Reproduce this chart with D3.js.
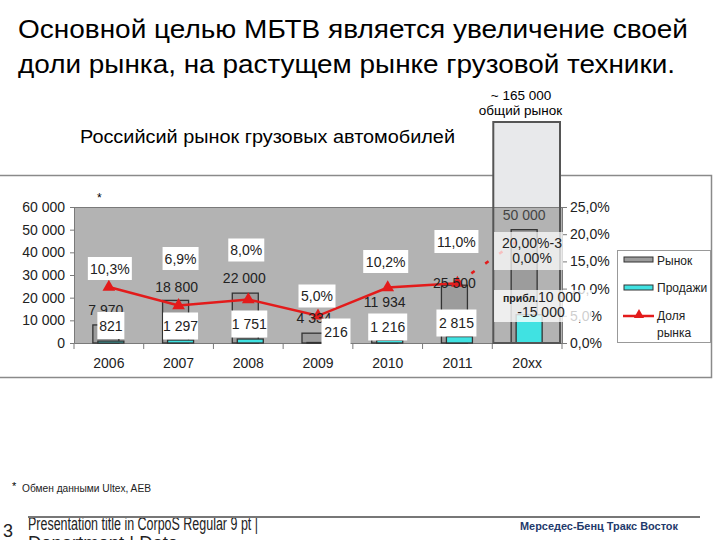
<!DOCTYPE html>
<html><head><meta charset="utf-8">
<script src="https://cdn.jsdelivr.net/npm/d3@7/dist/d3.min.js"></script>
<style>body{margin:0;background:#fff}svg{display:block;font-family:"Liberation Sans",Arial,sans-serif}</style>
</head><body>
<svg id="c" width="720" height="540"></svg>
<script>
const categories = ["2006","2007","2008","2009","2010","2011","20xx"];
const market = [7970, 18800, 22000, 4334, 11934, 25500, 50000];
const sales = [821, 1297, 1751, 216, 1216, 2815, 12500];
const share = [10.3, 6.9, 8.0, 5.0, 10.2, 11.0, 20.0];
const marketLabels = ["7 970","18 800","22 000","4 334","11 934","25 500","50 000"];
const salesLabels = ["821","1 297","1 751","216","1 216","2 815"];
const shareLabels = ["10,3%","6,9%","8,0%","5,0%","10,2%","11,0%"];
const leftTicks = [0,10000,20000,30000,40000,50000,60000];
const leftTickLabels = ["0","10 000","20 000","30 000","40 000","50 000","60 000"];
const rightTicks = [0,5,10,15,20,25];
const rightTickLabels = ["0,0%","5,0%","10,0%","15,0%","20,0%","25,0%"];

const svg = d3.select("#c");
const x = d3.scaleBand().domain(categories).range([74,562]).padding(0);
const yL = d3.scaleLinear().domain([0,60000]).range([343,207]);
const yR = d3.scaleLinear().domain([0,25]).range([343,207]);
const cx = c => x(c) + x.bandwidth()/2;

// Titles
svg.append("text").attr("x",18).attr("y",38).attr("font-size",25.5).attr("fill","#000")
  .attr("textLength",670).attr("lengthAdjust","spacingAndGlyphs")
  .text("Основной целью МБТВ является увеличение своей");
svg.append("text").attr("x",18).attr("y",73).attr("font-size",25.5).attr("fill","#000")
  .attr("textLength",657).attr("lengthAdjust","spacingAndGlyphs")
  .text("доли рынка, на растущем рынке грузовой техники.");
svg.append("text").attr("x",80).attr("y",143).attr("font-size",17.5).attr("fill","#000")
  .attr("textLength",375).attr("lengthAdjust","spacingAndGlyphs")
  .text("Российсий рынок грузовых автомобилей");

// outer chart frame
svg.append("path").attr("d","M0,175.5H711.5V377.5H0").attr("fill","none").attr("stroke","#8a8a8a").attr("stroke-width",1.5);

// highlight column for 20xx
const hx0 = x("20xx") + 1, hx1 = x("20xx") + x.bandwidth() - 2;
svg.append("rect").attr("x",hx0).attr("y",122).attr("width",hx1-hx0).attr("height",343-122).attr("fill","#e8e9eb");
svg.append("text").attr("x",521).attr("y",100).attr("font-size",13.5).attr("text-anchor","middle").text("~ 165 000");
svg.append("text").attr("x",520.5).attr("y",115).attr("font-size",13.5).attr("text-anchor","middle").text("общий рынок");

// plot area
svg.append("rect").attr("x",74).attr("y",207).attr("width",488).attr("height",136).attr("fill","#b3b3b3");
svg.append("line").attr("x1",74).attr("x2",562).attr("y1",207.5).attr("y2",207.5).attr("stroke","#7a7a7a");

// axes
const axL = svg.append("g").attr("transform","translate(74,0)")
  .call(d3.axisLeft(yL).tickValues(leftTicks).tickSize(4).tickFormat((d,i)=>leftTickLabels[i]));
const axR = svg.append("g").attr("transform","translate(562,0)")
  .call(d3.axisRight(yR).tickValues(rightTicks).tickSize(5).tickFormat((d,i)=>rightTickLabels[i]));
const axB = svg.append("g").attr("transform","translate(0,343)")
  .call(d3.axisBottom(x).tickSize(0).tickFormat(d=>d));
[axL,axR,axB].forEach(g=>{
  g.selectAll("path").attr("stroke","#7a7a7a");
  g.selectAll("line").attr("stroke","#7a7a7a");
  g.selectAll("text").attr("font-size",14).attr("fill","#222").attr("font-family","Liberation Sans, Arial, sans-serif");
});
axL.selectAll("text").attr("x",-9);
axR.selectAll("text").attr("x",8);
axB.selectAll("text").attr("dy","1.55em");
// category boundary ticks
svg.append("g").selectAll("line").data(categories).join("line")
  .attr("x1",d=>x(d)).attr("x2",d=>x(d)).attr("y1",343).attr("y2",349).attr("stroke","#7a7a7a");
svg.append("line").attr("x1",562).attr("x2",562).attr("y1",343).attr("y2",349).attr("stroke","#7a7a7a");

// bars
svg.append("g").selectAll("rect").data(categories).join("rect")
  .attr("x",d=>cx(d)-16).attr("width",26)
  .attr("y",(d,i)=>yL(market[i])).attr("height",(d,i)=>343-yL(market[i]))
  .attr("fill","#9c9c9c").attr("stroke","#333").attr("stroke-width",1.3);
svg.append("g").selectAll("rect").data(categories).join("rect")
  .attr("x",d=>cx(d)-11).attr("width",26)
  .attr("y",(d,i)=>yL(sales[i])).attr("height",(d,i)=>343-yL(sales[i]))
  .attr("fill","#40e2e2").attr("stroke","#333").attr("stroke-width",1.3);

// highlight border
svg.append("rect").attr("x",hx0).attr("y",122).attr("width",hx1-hx0).attr("height",343-122)
  .attr("fill","none").attr("stroke","#555").attr("stroke-width",2);

// share line
const solid = categories.slice(0,6);
svg.append("path").datum(solid)
  .attr("d",d3.line().x(d=>cx(d)).y((d,i)=>yR(share[i])))
  .attr("fill","none").attr("stroke","#e31b1b").attr("stroke-width",2.5);
svg.append("path").datum([5,6])
  .attr("d",d3.line().x(i=>cx(categories[i])).y(i=>yR(share[i])))
  .attr("fill","none").attr("stroke","#e31b1b").attr("stroke-width",2.5).attr("stroke-dasharray","4,13");
const tri = d3.symbol().type(d3.symbolTriangle).size(70);
svg.append("g").selectAll("path").data(solid).join("path")
  .attr("transform",(d,i)=>`translate(${cx(d)},${yR(share[i])})`)
  .attr("d",tri).attr("fill","#e31b1b");

// market labels (no boxes)
const mkDx = [-3,-2,-4,-4,-3,-3,-3];
const mkY = [315,292,283,323,307,288,220];
svg.append("g").selectAll("text").data(marketLabels).join("text")
  .attr("x",(d,i)=>cx(categories[i])+mkDx[i]).attr("y",(d,i)=>mkY[i])
  .attr("text-anchor","middle").attr("font-size",14).attr("fill",(d,i)=>i===6?"#444":"#222").text(d=>d);

// boxed labels helper
function boxLabel(cxp, cyp, w, h, txt, fs){
  svg.append("rect").attr("x",cxp-w/2).attr("y",cyp-h/2).attr("width",w).attr("height",h).attr("fill","#fff");
  svg.append("text").attr("x",cxp).attr("y",cyp+fs*0.36).attr("text-anchor","middle").attr("font-size",fs).attr("fill","#222").text(txt);
}
const shDx = [1,2,-2,-1,-2,-1];
const shCy = [268.5,258.5,250,296,261.5,241.5];
const shW = [44,36,36,37,45,44];
shareLabels.forEach((t,i)=>boxLabel(cx(categories[i])+shDx[i], shCy[i], shW[i], 23, t, 14));
const saDx = [2,2,1,18,0,-1];
const saCy = [325.5,326,324,332,327,323];
const saW = [27,35,36,29,39,40];
salesLabels.forEach((t,i)=>boxLabel(cx(categories[i])+saDx[i], saCy[i], saW[i], 27, t, 14));

// 20xx annotations
svg.append("rect").attr("x",494).attr("y",232).attr("width",69).attr("height",38).attr("fill","#fff").attr("opacity",0.72);
svg.append("text").attr("x",532).attr("y",248).attr("text-anchor","middle").attr("font-size",14).attr("fill","#222").text("20,00%-3");
svg.append("text").attr("x",532).attr("y",263).attr("text-anchor","middle").attr("font-size",14).attr("fill","#222").text("0,00%");
svg.append("rect").attr("x",494).attr("y",290).attr("width",98).attr("height",32).attr("fill","#fff").attr("opacity",0.78);
const t2 = svg.append("text").attr("x",503).attr("y",302).attr("font-size",14).attr("fill","#222");
t2.append("tspan").attr("font-size",10.5).attr("font-weight","bold").text("прибл.");
t2.append("tspan").text("10 000");
svg.append("text").attr("x",541).attr("y",317).attr("text-anchor","middle").attr("font-size",14).attr("fill","#222").text("-15 000");

// asterisk
svg.append("text").attr("x",97).attr("y",202).attr("font-size",12).text("*");

// legend
svg.append("rect").attr("x",617.5).attr("y",250.5).attr("width",93).attr("height",92).attr("fill","#fff").attr("stroke","#999");
svg.append("rect").attr("x",624).attr("y",257).attr("width",29).attr("height",5).attr("fill","#9c9c9c").attr("stroke","#333");
svg.append("text").attr("x",657).attr("y",265).attr("font-size",12).attr("fill","#222").text("Рынок");
svg.append("rect").attr("x",624).attr("y",285).attr("width",29).attr("height",5).attr("fill","#40e2e2").attr("stroke","#333");
svg.append("text").attr("x",657).attr("y",292).attr("font-size",12).attr("fill","#222").text("Продажи");
svg.append("line").attr("x1",623).attr("x2",654).attr("y1",316).attr("y2",316).attr("stroke","#e31b1b").attr("stroke-width",2.5);
svg.append("path").attr("transform","translate(639,315)").attr("d",d3.symbol().type(d3.symbolTriangle).size(45)).attr("fill","#e31b1b");
svg.append("text").attr("x",657).attr("y",320).attr("font-size",12).attr("fill","#222").text("Доля");
svg.append("text").attr("x",657).attr("y",337).attr("font-size",12).attr("fill","#222").text("рынка");

// footer
svg.append("text").attr("x",12).attr("y",490).attr("font-size",11).text("*");
svg.append("text").attr("x",22).attr("y",492).attr("font-size",10).attr("textLength",129).attr("lengthAdjust","spacingAndGlyphs").attr("fill","#222").text("Обмен данными Ultex, AEB");
svg.append("text").attr("x",3).attr("y",537).attr("font-size",18).attr("fill","#222").text("3");
svg.append("text").attr("x",28).attr("y",530).attr("font-size",17.5).attr("textLength",230).attr("lengthAdjust","spacingAndGlyphs").attr("fill","#222").text("Presentation title in CorpoS Regular 9 pt |");
svg.append("text").attr("x",28).attr("y",549).attr("font-size",17.5).attr("textLength",150).attr("lengthAdjust","spacingAndGlyphs").attr("fill","#222").text("Department | Date");
svg.append("line").attr("x1",28).attr("x2",700).attr("y1",517).attr("y2",517).attr("stroke","#777").attr("stroke-width",2);
svg.append("text").attr("x",520).attr("y",530).attr("font-size",11).attr("font-weight","bold").attr("textLength",158).attr("lengthAdjust","spacingAndGlyphs").attr("fill","#1f3a6b").text("Мерседес-Бенц Тракс Восток");
</script>
</body></html>
